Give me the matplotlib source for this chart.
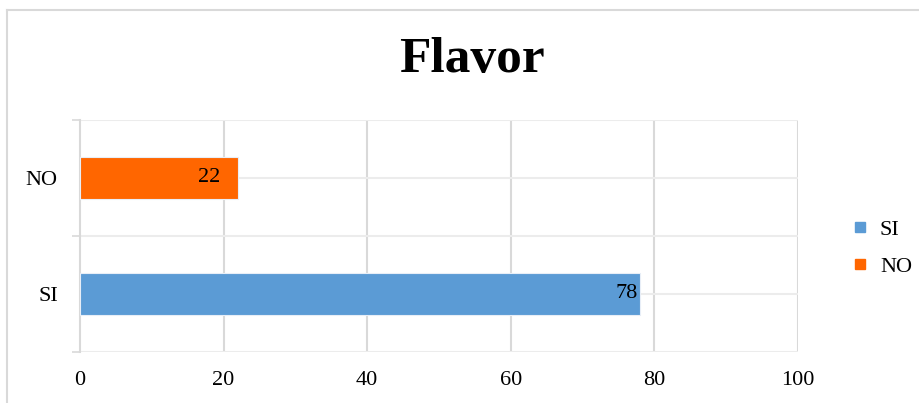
import matplotlib.pyplot as plt
from matplotlib.lines import Line2D

categories = ['SI', 'NO']
values = [78, 22]
colors = ['#5B9BD5', '#FF6600']
x_ticks = [0, 20, 40, 60, 80, 100]

plt.rcParams['font.family'] = ['Liberation Serif', 'DejaVu Serif']
grid_color = '#d9d9d9'

fig = plt.figure(figsize=(9.19, 4.03), dpi=100, facecolor='white')
ax = fig.add_axes([80 / 919, 51 / 403, 718 / 919, 232 / 403])

ypos = list(range(len(categories)))
bars = ax.barh(ypos, values, height=0.36, color=colors,
               edgecolor='#e8eef7', linewidth=0.8, zorder=3)

# labels sit inside the bar ends
label_pad = [-2, -13]
for bar, v, pad in zip(bars, values, label_pad):
    ax.annotate(f'{v}', (bar.get_width(), bar.get_y() + bar.get_height() / 2),
                xytext=(pad, 0), textcoords='offset points',
                ha='right', va='center', fontsize=16, color='black', zorder=4)

ax.set_xlim(0, 100)
ax.set_ylim(-0.5, len(categories) - 0.5)
ax.set_xticks(x_ticks)
ax.set_yticks(ypos)
ax.set_yticklabels(categories)
ax.set_yticks([-0.5, 0.5, 1.5], minor=True)

ax.tick_params(axis='x', length=0, labelsize=16, pad=14)
ax.tick_params(axis='y', which='major', length=0, labelsize=16, pad=16)
ax.tick_params(axis='y', which='minor', length=6, width=1.2, color=grid_color)

# Excel-style grid: vertical at ticks, horizontal at centers and boundaries
for x in x_ticks[1:]:
    ax.axvline(x, color=grid_color, lw=1.5, zorder=1)
for y in [-0.5, 0, 0.5, 1, 1.5]:
    ax.axhline(y, color='#ececec', lw=1.5, zorder=1)

for side in ['top', 'right', 'bottom']:
    ax.spines[side].set_visible(False)
ax.spines['left'].set_color(grid_color)
ax.spines['left'].set_linewidth(1.5)

fig.text(472 / 919, 1 - 60 / 403, 'Flavor', ha='center', va='center',
         fontsize=37, fontweight='bold')

handles = [Line2D([], [], marker='s', linestyle='none', markersize=7,
                  markerfacecolor=c, markeredgecolor=c) for c in colors]
fig.legend(handles, categories, loc='center left',
           bbox_to_anchor=(831 / 919, 1 - 248 / 403), frameon=False,
           fontsize=16, handlelength=0.8, handletextpad=0.5, labelspacing=0.75)

# outer chart frame (top and left edges)
fig.add_artist(Line2D([7 / 919, 1], [1 - 10 / 403, 1 - 10 / 403],
                      transform=fig.transFigure, color=grid_color, lw=1.5))
fig.add_artist(Line2D([7 / 919, 7 / 919], [0, 1 - 10 / 403],
                      transform=fig.transFigure, color=grid_color, lw=1.5))

fig.savefig('out.png', dpi=100, facecolor='white')
